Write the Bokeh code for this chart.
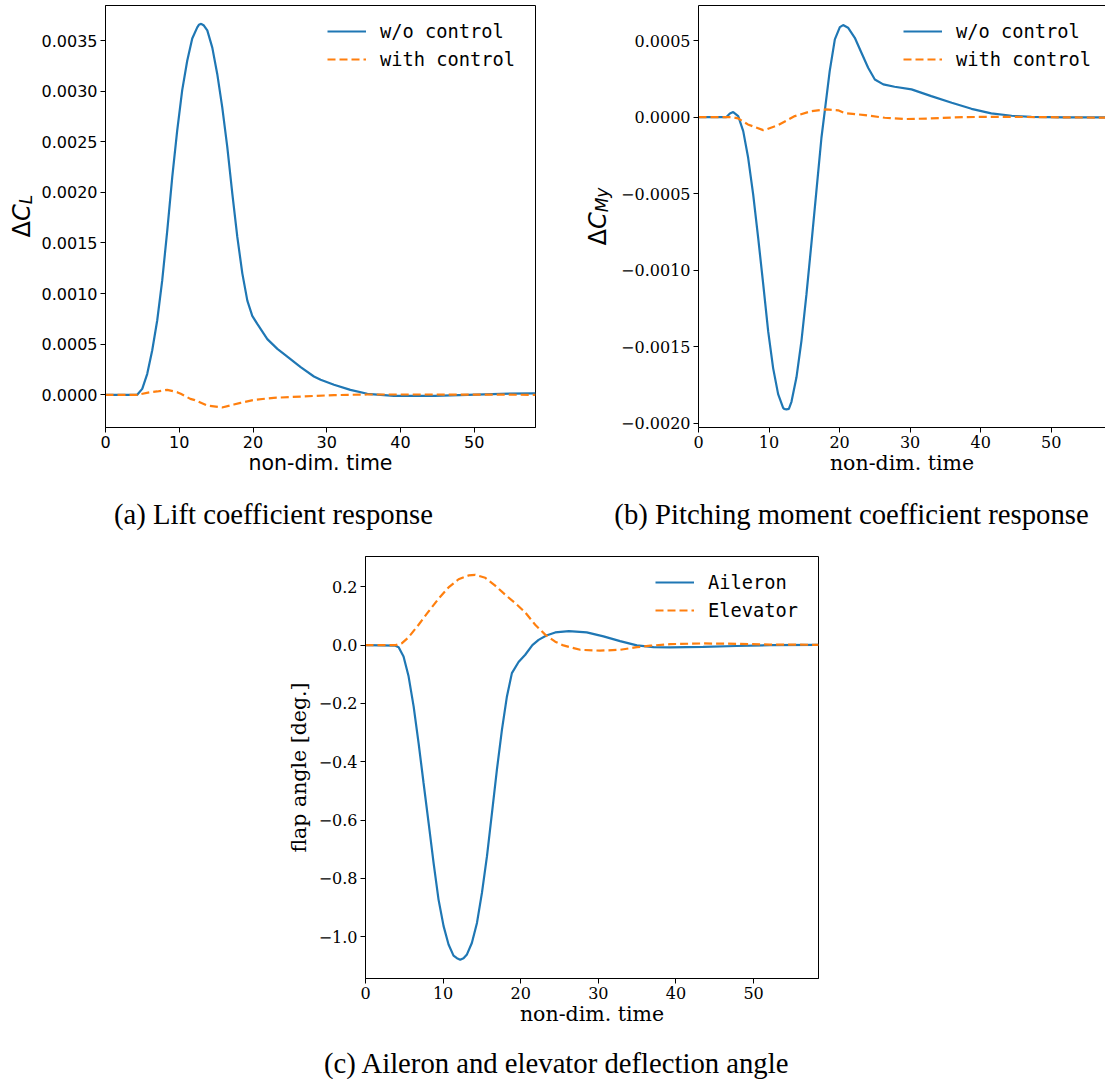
import math

from bokeh.embed import file_html
from bokeh.layouts import column, row
from bokeh.models import (CustomJSTickFormatter, FixedTicker, Label, Legend,
                          LegendItem, LinearAxis, Range1d, Spacer)
from bokeh.plotting import figure
from bokeh.resources import INLINE

# ---------------------------------------------------------------- data ----
# (a) lift coefficient increment
CL_T_OPEN = [0, 4.3, 4.98, 5.66, 6.33, 7.01, 7.69, 8.37, 9.05, 9.72, 10.4, 11.08,
             11.76, 12.44, 12.66, 12.98, 13.34, 13.8, 14.48, 15.15, 15.83, 16.51,
             17.19, 17.87, 18.55, 19.23, 19.9, 20.58, 21.94, 23.3, 24.65, 26.46,
             28.26, 29.17, 30.98, 33.2, 35.5, 39.1, 44.6, 49.1, 53.6, 58.3]
CL_OPEN = [0, 0, 0.000059, 0.000207, 0.000438, 0.000734, 0.00113, 0.00162, 0.00215,
           0.00261, 0.00301, 0.00330, 0.00352, 0.00363, 0.003655, 0.003665, 0.003648,
           0.00360, 0.00343, 0.00317, 0.00284, 0.00245, 0.00199, 0.00156, 0.00120,
           0.00093, 0.00078, 0.00070, 0.00055, 0.000454, 0.000378, 0.000273,
           0.000181, 0.000148, 0.000100, 0.000049, 0.00001, -0.00001, -0.00001, 0.0,
           0.00001, 0.000014]
CL_T_CTRL = [0, 4.3, 6.1, 7.0, 8.37, 9.7, 10.2, 11.5, 12.0, 13.8, 15.8, 17.4, 18.3,
             20.1, 22.8, 26.5, 31.0, 35.5, 44.6, 58.3]
CL_CTRL = [0, 0, 0.000026, 0.000033, 0.000049, 0.000026, 0.00001, -0.00004, -0.00005,
           -0.000106, -0.000125, -0.000096, -0.00008, -0.00005, -0.00003, -0.000017,
           -0.000003, 0.000003, 0.000003, 0.0]

# (b) pitching moment coefficient increment
CMY_T_OPEN = [0, 3.97, 4.45, 4.92, 5.63, 6.34, 7.04, 7.75, 8.46, 9.17, 9.88, 10.58,
              11.29, 12.0, 12.15, 12.47, 12.81, 13.18, 13.89, 14.6, 15.3, 16.0, 16.72,
              17.43, 17.9, 18.6, 19.33, 20.04, 20.5, 21.2, 22.16, 23.1, 24.05, 25.0,
              26.2, 27.8, 30.2, 33.0, 35.9, 38.7, 41.5, 44.4, 47.2, 51.9, 58.3]
CMY_OPEN = [0, 0, 0.000024, 0.000033, 0.0000065, -0.0000915, -0.000266, -0.000505,
            -0.000789, -0.00109, -0.00140, -0.00164, -0.00181, -0.00190, -0.001906,
            -0.00191, -0.001906, -0.00186, -0.00170, -0.00146, -0.00116, -0.00083,
            -0.00048, -0.000135, 0.000039, 0.0003, 0.000508, 0.000588, 0.000601,
            0.000584, 0.000518, 0.00042, 0.000322, 0.000246, 0.000214, 0.000198,
            0.000181, 0.000137, 0.000094, 0.000054, 0.000024, 0.0000087, 0.000002,
            -0.000002, -0.000002]
CMY_T_CTRL = [0, 4.7, 5.6, 7.0, 9.17, 9.64, 11.3, 13.66, 16.0, 18.1, 19.8, 20.7, 23.6,
              26.4, 29.25, 33.0, 37.7, 42.4, 58.3]
CMY_CTRL = [0, 0, -0.0000087, -0.000048, -0.000085, -0.00008, -0.000052, 0.0000065,
            0.000039, 0.00005, 0.000044, 0.000026, 0.000013, -0.0000044, -0.000013,
            -0.0000087, 0.0, 0.000002, -0.000004]

# (c) control surface deflections
FLAP_T_AIL = [0, 3.84, 4.27, 4.9, 5.55, 6.2, 6.84, 7.48, 8.13, 8.77, 9.41, 10.06,
              10.7, 11.34, 11.78, 12.2, 12.63, 13.07, 13.7, 14.36, 15.0, 15.65, 16.29,
              16.93, 17.58, 18.22, 18.86, 19.72, 20.58, 21.5, 22.3, 23.3, 24.44, 26.2,
              28.5, 30.66, 32.8, 34.96, 37.1, 39.25, 43.5, 47.8, 52.1, 58.36]
FLAP_AIL = [0, -0.002, -0.007, -0.039, -0.107, -0.21, -0.336, -0.473, -0.61, -0.747,
            -0.873, -0.964, -1.027, -1.065, -1.074, -1.079, -1.074, -1.061, -1.022,
            -0.953, -0.85, -0.724, -0.576, -0.427, -0.29, -0.176, -0.096, -0.058,
            -0.033, 0.0, 0.018, 0.033, 0.0435, 0.048, 0.0435, 0.030, 0.0137, -0.001,
            -0.007, -0.008, -0.006, -0.003, 0.0, 0.001]
FLAP_T_ELE = [0, 3.9, 4.7, 5.55, 6.84, 8.13, 9.41, 10.7, 11.99, 13.28, 14.14, 15.43,
              16.71, 18.0, 19.29, 20.58, 21.86, 23.15, 24.44, 25.5, 27.66, 30.2, 32.8,
              34.96, 36.7, 39.25, 43.5, 47.8, 52.1, 58.36]
FLAP_ELE = [0, 0, 0.007, 0.027, 0.07, 0.1155, 0.159, 0.198, 0.226, 0.239, 0.241,
            0.231, 0.204, 0.173, 0.144, 0.112, 0.07, 0.036, 0.0117, -0.001, -0.016,
            -0.019, -0.016, -0.007, -0.002, 0.0034, 0.0057, 0.0046, 0.002, 0.001]

TIME_TICKS = [0, 10, 20, 30, 40, 50]
CL_TICKS = [0.0, 0.0005, 0.0010, 0.0015, 0.0020, 0.0025, 0.0030, 0.0035]
CMY_TICKS = [-0.0020, -0.0015, -0.0010, -0.0005, 0.0, 0.0005]
FLAP_TICKS = [-1.0, -0.8, -0.6, -0.4, -0.2, 0.0, 0.2]

COEF_NAMES = ["w/o control", "with control"]
FLAP_NAMES = ["Aileron", "Elevator"]
X_LABEL = "non-dim. time"
FLAP_LABEL = "flap angle [deg.]"
CAPTIONS = ["(a) Lift coefficient response",
            "(b) Pitching moment coefficient response",
            "(c) Aileron and elevator deflection angle"]

# --------------------------------------------------------------- style ----
BLUE = "#1f77b4"
ORANGE = "#ff7f0e"
SANS = "DejaVu Sans"
SERIF = "DejaVu Serif"
MONO = "DejaVu Sans Mono"
CAPTION_FONT = "Liberation Serif"
CAPTION_SIZE = "28.7px"
TICK_SIZE = "16px"
LABEL_SIZE = "20.5px"

FMT_CODE = """
const s = Math.abs(tick).toFixed(d);
return (tick < 0 && Number(s) != 0 ? "\\u2212" : "") + s;
"""


def make_panel(width, height, borders, x_end, y_lim):
    left, right, top, bottom = borders
    p = figure(width=width, height=height,
               x_range=Range1d(0, x_end), y_range=Range1d(*y_lim),
               output_backend="svg", toolbar_location=None,
               min_border_left=left, min_border_right=right,
               min_border_top=top, min_border_bottom=bottom,
               background_fill_color="white", border_fill_color="white")
    p.grid.visible = False
    p.outline_line_color = "black"
    p.outline_line_width = 1
    return p


def text_canvas(width, height, top=0, bottom=0):
    """Axis-free figure whose data units are the canvas pixels (y downwards)."""
    p = figure(width=width, height=height,
               x_range=Range1d(0, width), y_range=Range1d(height - bottom, top),
               x_axis_location=None, y_axis_location=None,
               output_backend="svg", toolbar_location=None,
               min_border_left=0, min_border_right=0,
               min_border_top=top, min_border_bottom=bottom,
               background_fill_color="white", border_fill_color="white")
    p.grid.visible = False
    p.outline_line_color = None
    return p


def style_axes(p, font, y_ticks, y_digits):
    xa, ya = p.below[0], p.left[0]
    xa.ticker = FixedTicker(ticks=TIME_TICKS)
    ya.ticker = FixedTicker(ticks=y_ticks)
    xa.formatter = CustomJSTickFormatter(args=dict(d=0), code=FMT_CODE)
    ya.formatter = CustomJSTickFormatter(args=dict(d=y_digits), code=FMT_CODE)
    for ax in (xa, ya):
        ax.major_label_text_font = font
        ax.major_label_text_font_size = TICK_SIZE
        ax.major_label_text_color = "black"
        ax.major_label_standoff = 3
        ax.major_tick_in = 0
        ax.major_tick_out = 5
        ax.major_tick_line_color = "black"
        ax.minor_tick_line_color = None
        ax.axis_line_color = "black"
        ax.axis_label_text_font = font
        ax.axis_label_text_font_size = LABEL_SIZE
        ax.axis_label_text_font_style = "normal"
        ax.axis_label_text_color = "black"
    xa.axis_label = X_LABEL
    xa.axis_label_standoff = 0
    return xa, ya


def add_curves(p, t_a, y_a, t_b, y_b, names, loc):
    r_a = p.line(t_a, y_a, line_color=BLUE, line_width=2.2)
    r_b = p.line(t_b, y_b, line_color=ORANGE, line_width=2.2, line_dash="8 4")
    legend = Legend(items=[LegendItem(label=names[0], renderers=[r_a]),
                           LegendItem(label=names[1], renderers=[r_b])],
                    location=loc, orientation="vertical",
                    glyph_width=39, glyph_height=28, label_height=28,
                    label_standoff=14, spacing=0, padding=0, margin=0,
                    border_line_color=None, background_fill_alpha=0,
                    label_text_font=MONO, label_text_font_size="18.7px",
                    label_text_color="black")
    p.add_layout(legend)


def add_coef_label(p, sub, x, y, sub_dx):
    """Rotated 'Delta C_sub' label, reading upwards from (x, y)."""
    common = dict(angle=math.pi / 2, text_align="left", text_baseline="alphabetic",
                  text_color="black", text_font=SANS)
    p.add_layout(Label(x=x, y=y, text="\u0394", text_font_size="24px", **common))
    p.add_layout(Label(x=x, y=y - 16.4, text="C", text_font_size="24px",
                       text_font_style="italic", **common))
    p.add_layout(Label(x=x + sub_dx, y=y - 33.2, text=sub, text_font_size="17px",
                       text_font_style="italic", **common))


def add_caption(p, text, x, y):
    p.add_layout(Label(x=x, y=y, text=text, text_align="center",
                       text_baseline="middle", text_font=CAPTION_FONT,
                       text_font_size=CAPTION_SIZE, text_color="black"))


# ----------------------------------------------------------- (a) lift ----
lab_a = text_canvas(38, 490, top=5, bottom=63)
add_coef_label(lab_a, "L", 21.5, 237, 4)

pa = make_panel(522, 490, (67, 25, 5, 63), 58.3, (-0.000323, 0.003846))
style_axes(pa, SANS, CL_TICKS, 4)
add_curves(pa, CL_T_OPEN, CL_OPEN, CL_T_CTRL, CL_CTRL, COEF_NAMES, (222, 354))

# ---------------------------------------------------------- (b) pitch ----
lab_b = text_canvas(56, 490, top=5, bottom=63)
add_coef_label(lab_b, "My", 37, 245, 4)

pb = make_panel(489, 490, (82, 0, 5, 63), 57.7, (-0.002028, 0.000729))
style_axes(pb, SERIF, CMY_TICKS, 4)
pb.outline_line_color = None
top_line = LinearAxis(ticker=FixedTicker(ticks=[]), major_tick_out=0, major_tick_in=0,
                      minor_tick_out=0, minor_tick_in=0, major_label_standoff=0,
                      major_label_text_font_size="0px", axis_line_color="black")
pb.add_layout(top_line, "above")
add_curves(pb, CMY_T_OPEN, CMY_OPEN, CMY_T_CTRL, CMY_CTRL, COEF_NAMES, (205, 354))

# ---------------------------------------------------------- (c) flaps ----
pc = make_panel(560, 490, (85, 22, 11, 57), 58.36, (-1.1436, 0.304))
xc, yc = style_axes(pc, SERIF, FLAP_TICKS, 1)
yc.axis_label = FLAP_LABEL
yc.axis_label_standoff = 5
add_curves(pc, FLAP_T_AIL, FLAP_AIL, FLAP_T_ELE, FLAP_ELE, FLAP_NAMES, (290, 354))

# ------------------------------------------------------------ captions ----
cap_top = text_canvas(1105, 55)
add_caption(cap_top, CAPTIONS[0], 273, 23)
add_caption(cap_top, CAPTIONS[1], 851, 23)

cap_bottom = text_canvas(1105, 44)
add_caption(cap_bottom, CAPTIONS[2], 556.5, 27)

layout = column(row(lab_a, pa, lab_b, pb),
                cap_top,
                row(Spacer(width=280, height=490), pc),
                cap_bottom)

with open("out.html", "w", encoding="utf-8") as fh:
    fh.write(file_html(layout, INLINE))
